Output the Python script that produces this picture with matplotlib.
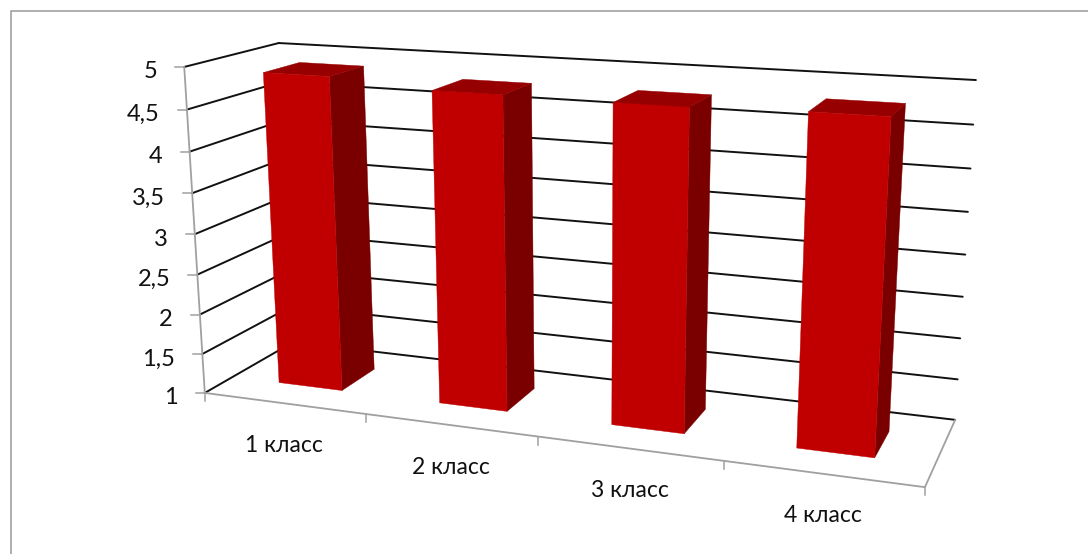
import numpy as np
import matplotlib
matplotlib.use('Agg')
import matplotlib.pyplot as plt

categories = ['1 класс', '2 класс', '3 класс', '4 класс']
values = [4.875, 4.785, 4.775, 4.805]
z_ticks = [1, 1.5, 2, 2.5, 3, 3.5, 4, 4.5, 5]
z_labels = ['1', '1,5', '2', '2,5', '3', '3,5', '4', '4,5', '5']

plt.rcParams['font.family'] = ['Lato', 'DejaVu Sans']

# box corners (category, depth, value) and where they land on the picture
box_pts = np.array([[0, 0, 1], [0, 0, 5], [0, 1, 5], [0, 1, 1],
                    [4, 1, 1], [4, 1, 5], [4, 0, 1]], float)
img_pts = np.array([[204, 393], [185, 67], [278, 43], [294, 342],
                    [955, 420], [976, 80], [925, 487]], float)


def fit_camera(src, dst):
    rows = []
    for (x, y, z), (u, v) in zip(src, dst):
        rows.append([x, y, z, 1, 0, 0, 0, 0, -u*x, -u*y, -u*z, -u])
        rows.append([0, 0, 0, 0, x, y, z, 1, -v*x, -v*y, -v*z, -v])
    return np.linalg.svd(np.array(rows))[2][-1].reshape(3, 4)


cam = fit_camera(box_pts, img_pts)


def project(x, y, z):
    p = cam @ np.array([x, y, z, 1.0])
    return p[0] / p[2], p[1] / p[2]


def seg(a, b, **kw):
    pa, pb = project(*a), project(*b)
    ax.plot([pa[0], pb[0]], [pa[1], pb[1]], solid_capstyle='round', **kw)


def face(corners, color):
    pts = [project(*c) for c in corners]
    ax.fill([p[0] for p in pts], [p[1] for p in pts], color=color, lw=0.3, zorder=5)


fig = plt.figure(figsize=(10.88, 5.54), dpi=100)
ax = fig.add_axes([0, 0, 1, 1])
ax.set_xlim(0, 1088)
ax.set_ylim(554, 0)
ax.axis('off')

gray = '#a0a0a0'
# chart frame, only top and left are inside the picture
ax.plot([10.5, 10.5, 1088], [554, 10.5, 10.5], color='#999999', lw=1.1)

for z, lab in zip(z_ticks, z_labels):
    seg((0, 0, z), (0, 1, z), color='#111111', lw=1.4)
    seg((0, 1, z), (4, 1, z), color='#111111', lw=1.4)
    u, v = project(0, 0, z)
    ax.plot([u - 9, u], [v, v], color=gray, lw=1.1)
    ax.text(u - 27, v + 5, lab, ha='right', va='center', fontsize=17, color='#111111')

seg((0, 0, 1), (0, 0, 5), color=gray, lw=1.3)
seg((0, 0, 1), (4, 0, 1), color=gray, lw=1.3)
seg((4, 0, 1), (4, 1, 1), color=gray, lw=1.3)

for i in range(len(categories) + 1):
    u, v = project(i, 0, 1)
    ax.plot([u, u], [v, v + 8], color=gray, lw=1.1)

bar_w = 0.4
for i, (name, val) in enumerate(zip(categories, values)):
    x0, x1 = i + 0.5 - bar_w / 2, i + 0.5 + bar_w / 2
    y0, y1 = 0.3, 0.7
    face([(x1, y0, 1), (x1, y1, 1), (x1, y1, val), (x1, y0, val)], '#7a0000')
    face([(x0, y0, val), (x1, y0, val), (x1, y1, val), (x0, y1, val)], '#960000')
    face([(x0, y0, 1), (x1, y0, 1), (x1, y0, val), (x0, y0, val)], '#c00000')
    u, v = project(i + 0.5, 0, 1)
    ax.text(u, v + 42, name, ha='center', va='center', fontsize=16.5, color='#111111')

fig.savefig('out.png', dpi=100)
